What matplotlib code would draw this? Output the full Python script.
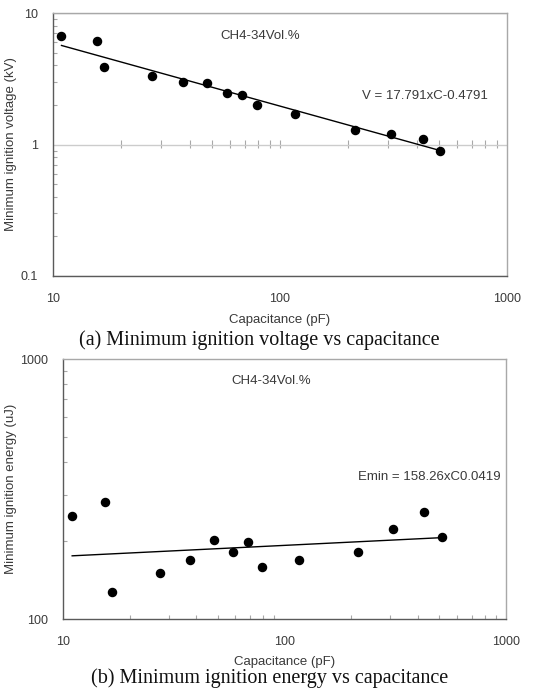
import matplotlib
matplotlib.use("Agg")
import matplotlib.pyplot as plt
import numpy as np
from matplotlib.ticker import LogLocator, NullFormatter, FixedLocator, FixedFormatter

# ---- data ----
cap_v = [10.9, 15.6, 16.7, 27.4, 37.5, 47.5, 58.2, 68.2, 79.4, 116, 214, 308, 425, 508]
volt = [6.7, 6.1, 3.88, 3.30, 2.98, 2.91, 2.48, 2.39, 1.99, 1.70, 1.30, 1.20, 1.10, 0.90]
cap_e = [11.0, 15.5, 16.7, 27.4, 37.4, 47.9, 58.3, 68.2, 79.4, 116.7, 214.7, 309, 426, 512]
energy = [248, 283, 127, 150, 169, 201, 181, 197, 159, 169, 181, 222, 259, 207]
v_coef, v_exp = 17.791, -0.4791
e_coef, e_exp = 158.26, 0.0419
x_ticks = [10, 100, 1000]
x_ticklabels = ["10", "100", "1000"]
v_ticks = [0.1, 1, 10]
v_ticklabels = ["0.1", "1", "10"]
e_ticks = [100, 1000]
e_ticklabels = ["100", "1000"]

TXT = "#3a3a3a"
DARK = "#5a5a5a"
LIGHT = "#a8a8a8"
plt.rcParams['font.family'] = ['Liberation Sans', 'DejaVu Sans']

W, H = 536, 695
fig = plt.figure(figsize=(W / 100, H / 100), dpi=100)


def box(l, t, r, b):
    return [l / W, 1 - b / H, (r - l) / W, (b - t) / H]


def style(ax, xt, xl, yt, yl):
    ax.set_xscale('log')
    ax.set_yscale('log')
    ax.xaxis.set_major_locator(FixedLocator(xt))
    ax.xaxis.set_major_formatter(FixedFormatter(xl))
    ax.yaxis.set_major_locator(FixedLocator(yt))
    ax.yaxis.set_major_formatter(FixedFormatter(yl))
    ax.xaxis.set_minor_locator(LogLocator(base=10, subs=np.arange(2, 10)))
    ax.yaxis.set_minor_locator(LogLocator(base=10, subs=np.arange(2, 10)))
    ax.xaxis.set_minor_formatter(NullFormatter())
    ax.yaxis.set_minor_formatter(NullFormatter())
    ax.tick_params(which='major', length=0, labelsize=9, labelcolor=TXT)
    ax.tick_params(axis='y', which='major', pad=11)
    ax.tick_params(axis='x', which='major', pad=12)
    ax.tick_params(which='minor', direction='in', length=3, width=0.8, color=LIGHT)
    for s in ['left', 'bottom']:
        ax.spines[s].set_color(DARK)
        ax.spines[s].set_linewidth(1.0)
    for s in ['top', 'right']:
        ax.spines[s].set_color(LIGHT)
        ax.spines[s].set_linewidth(1.0)


def ylabel_at(ax, text, x_px):
    ax.set_ylabel(text, fontsize=9.5, color=TXT)
    bb = ax.get_position()
    ax.yaxis.set_label_coords((x_px / W - bb.x0) / bb.width, 0.5)


# ---- (a) ----
ax1 = fig.add_axes(box(53, 13, 507, 276))
style(ax1, x_ticks, x_ticklabels, v_ticks, v_ticklabels)
ax1.set_xlim(10, 1000)
ax1.set_ylim(0.1, 10)
ax1.yaxis.grid(True, which='major', color='#cccccc', linewidth=1.0)
ax1.tick_params(axis='x', which='minor', bottom=False)
sec = ax1.secondary_xaxis(0.5)
sec.set_xscale('log')
sec.xaxis.set_major_locator(FixedLocator([100]))
sec.xaxis.set_minor_locator(LogLocator(base=10, subs=np.arange(2, 10)))
sec.xaxis.set_minor_formatter(NullFormatter())
sec.xaxis.set_major_formatter(NullFormatter())
sec.tick_params(which='both', direction='inout', length=6, width=0.8, color=LIGHT)
for sp in sec.spines.values():
    sp.set_visible(False)
cv = np.array(cap_v)
ax1.plot(cv, v_coef * cv ** v_exp, color='black', lw=1.0, zorder=3)
ax1.scatter(cap_v, volt, s=34, color='black', zorder=4, clip_on=False)
ax1.set_xlabel("Capacitance (pF)", fontsize=9.5, color=TXT, labelpad=7)
ylabel_at(ax1, "Minimum ignition voltage (kV)", 17)
ax1.text(0.368, 0.912, "CH4-34Vol.%", transform=ax1.transAxes, fontsize=9.5,
         color=TXT, va='center', ha='left')
ax1.text(0.681, 0.684, "V = 17.791xC-0.4791", transform=ax1.transAxes, fontsize=9.5,
         color=TXT, va='center', ha='left')
fig.text(259 / W, 1 - 340 / H, "(a) Minimum ignition voltage vs capacitance",
         family=['Liberation Serif'], fontsize=14.5, ha='center', va='center', color='#111111')

# ---- (b) ----
ax2 = fig.add_axes(box(63, 359, 506, 619))
style(ax2, x_ticks, x_ticklabels, e_ticks, e_ticklabels)
ax2.set_xlim(10, 1000)
ax2.set_ylim(100, 1000)
ce = np.array(cap_e)
ax2.plot(ce, e_coef * ce ** e_exp, color='black', lw=1.0, zorder=3)
ax2.scatter(cap_e, energy, s=34, color='black', zorder=4, clip_on=False)
ax2.set_xlabel("Capacitance (pF)", fontsize=9.5, color=TXT, labelpad=6)
ylabel_at(ax2, "Minimum ignition energy (uJ)", 17)
ax2.text(0.381, 0.915, "CH4-34Vol.%", transform=ax2.transAxes, fontsize=9.5,
         color=TXT, va='center', ha='left')
ax2.text(0.666, 0.546, "Emin = 158.26xC0.0419", transform=ax2.transAxes, fontsize=9.5,
         color=TXT, va='center', ha='left')
fig.text(270 / W, 1 - 678 / H, "(b) Minimum ignition energy vs capacitance",
         family=['Liberation Serif'], fontsize=14.5, ha='center', va='center', color='#111111')

fig.savefig("out.png", dpi=100)
